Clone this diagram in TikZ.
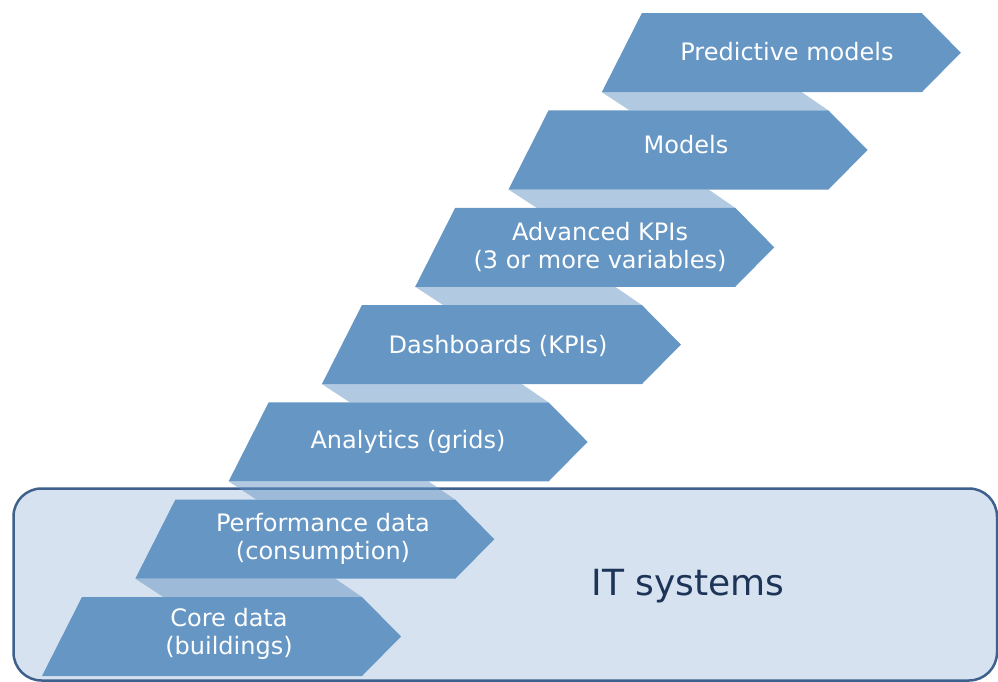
\documentclass[tikz,border=0pt]{standalone}
\usepackage{fontspec}
\setmainfont{DejaVu Sans}
\definecolor{stepblue}{RGB}{101,150,196}
\definecolor{boxfill}{RGB}{215,226,240}
\definecolor{boxline}{RGB}{62,96,140}
\definecolor{boxtext}{RGB}{28,52,88}
\begin{document}
\begin{tikzpicture}[x=1pt,y=-1pt,
  stepshape/.style={fill=stepblue,draw=none},
  riser/.style={fill=stepblue,fill opacity=0.5,draw=none},
  steptext/.style={text=white,font=\fontsize{24}{28}\selectfont,align=center,inner sep=0pt},
  itbox/.style={draw=boxline,fill=boxfill,line width=2.5pt,rounded corners=28pt}]
\useasboundingbox (0,0) rectangle (998,682);

% platform of IT systems
\draw[itbox] (13.5,488.5) rectangle (997,680.5);
\node[text=boxtext,font=\fontsize{36}{42}\selectfont,inner sep=0pt] (it) at (688,586) {IT systems};

% step geometry: i = 0 (bottom) .. 6 (top)
\def\stepH{79}
% risers between consecutive steps
\foreach \i in {0,...,5}{
  \pgfmathsetmacro\bxl{42+93.3*\i}
  \pgfmathsetmacro\bxu{42+93.3*(\i+1)}
  \pgfmathsetmacro\ytl{597-97.3*\i}
  \pgfmathsetmacro\ybu{597-97.3*(\i+1)+\stepH}
  \fill[riser] (\bxu,\ybu) -- (\bxu+200,\ybu) -- (\bxl+320,\ytl) -- (\bxu+28,\ytl) -- cycle;
}
% chevron steps
\foreach \i in {0,...,6}{
  \pgfmathsetmacro\bx{42+93.3*\i}
  \pgfmathsetmacro\yt{597-97.3*\i}
  \fill[stepshape] (\bx,\yt+\stepH) -- (\bx+40,\yt) -- (\bx+320,\yt)
     -- (\bx+359,\yt+0.5*\stepH) -- (\bx+320,\yt+\stepH) -- cycle;
}

% step labels
\node[steptext] (core) at (229,634) {Core data\\(buildings)};
\node[steptext] (perf) at (323,539) {Performance data\\(consumption)};
\node[steptext] (anal) at (408,442) {Analytics (grids)};
\node[steptext] (dash) at (498,346) {Dashboards (KPIs)};
\node[steptext] (akpi) at (600,247) {Advanced KPIs\\(3 or more variables)};
\node[steptext] (mod)  at (686,145) {Models};
\node[steptext] (pred) at (787,52)  {Predictive models};
\end{tikzpicture}
\end{document}
